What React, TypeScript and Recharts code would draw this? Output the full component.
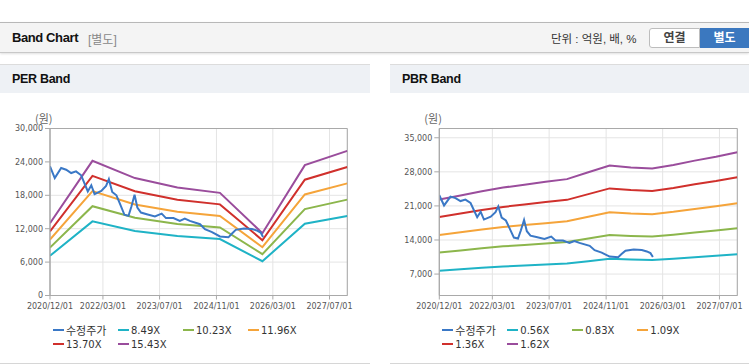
import React from "react";
import { LineChart, Line, XAxis, YAxis, CartesianGrid, ReferenceArea } from "recharts";

// x axis
const X_START = "2020/12/01";
const X_END = "2027/12/01";
const X_TICKS = ["2020/12/01", "2022/03/01", "2023/07/01", "2024/11/01", "2026/03/01", "2027/07/01"];

// 수정주가 (shared by both charts)
const PRICE_DATES = [
    "2020/12/01", "2021/01/11", "2021/03/07", "2021/04/19", "2021/06/01", "2021/07/13",
    "2021/08/26", "2021/10/22", "2021/11/21", "2021/12/19", "2022/02/15", "2022/03/28",
    "2022/04/21", "2022/05/20", "2022/06/25", "2022/07/25", "2022/09/02", "2022/10/07",
    "2022/11/01", "2022/11/28", "2022/12/22", "2023/01/22", "2023/03/13", "2023/05/22",
    "2023/07/19", "2023/08/25", "2023/10/28", "2023/12/22", "2024/02/03", "2024/03/17",
    "2024/06/13", "2024/07/25", "2024/09/24", "2024/12/01", "2025/02/12", "2025/03/13",
    "2025/04/16", "2025/06/25", "2025/09/03", "2025/10/16", "2025/11/16", "2025/12/07",
];
const PRICE_VALUES = [
    23200, 21100, 22900, 22600, 22000, 22300,
    21600, 18700, 19800, 18200, 18800, 19700,
    20900, 18600, 18000, 16500, 14500, 14300,
    16000, 18100, 15800, 14900, 14600, 14200,
    14700, 13900, 13900, 13400, 13800, 13400,
    12800, 11900, 11400, 10600, 10450, 11100,
    11800, 12050, 11950, 11650, 11300, 10500,
];

// PER band
const PER_DATES = ["2020/12/01", "2021/12/01", "2022/12/01", "2023/12/01", "2024/12/01", "2025/12/01", "2026/12/01", "2027/12/01"];
const PER_LABELS = ["8.49X", "10.23X", "11.96X", "13.70X", "15.43X"];
const PER_849 = [7140, 13312, 11606, 10672, 10146, 6155, 12888, 14297];
const PER_1023 = [8603, 16041, 13984, 12859, 12225, 7417, 15529, 17227];
const PER_1196 = [10058, 18753, 16349, 15034, 14292, 8671, 18155, 20141];
const PER_1370 = [11522, 21482, 18728, 17221, 16372, 9933, 20797, 23071];
const PER_1543 = [12976, 24194, 21093, 19396, 18439, 11187, 23423, 25984];
const PER_TICKS = [0, 6000, 12000, 18000, 24000, 30000];

// PBR band
const PBR_DATES = [
    "2020/12/01", "2021/06/01", "2021/12/01", "2022/06/01", "2022/12/01", "2023/06/01", "2023/12/01", "2024/06/01",
    "2024/12/01", "2025/06/01", "2025/12/01", "2026/06/01", "2026/12/01", "2027/06/01", "2027/12/01",
];
const PBR_LABELS = ["0.56X", "0.83X", "1.09X", "1.36X", "1.62X"];
const PBR_056 = [7708, 8002, 8306, 8562, 8766, 8971, 9160, 9644, 10128, 9990, 9914, 10163, 10474, 10751, 11076];
const PBR_083 = [11425, 11861, 12311, 12691, 12993, 13296, 13577, 14294, 15011, 14807, 14694, 15063, 15524, 15934, 16416];
const PBR_109 = [15004, 15576, 16168, 16666, 17063, 17461, 17830, 18772, 19714, 19446, 19297, 19781, 20387, 20926, 21558];
const PBR_136 = [18720, 19434, 20173, 20794, 21289, 21786, 22247, 23422, 24597, 24262, 24077, 24681, 25437, 26109, 26898];
const PBR_162 = [22300, 23150, 24030, 24770, 25360, 25950, 26500, 27900, 29300, 28900, 28680, 29400, 30300, 31100, 32040];
const PBR_TICKS = [7000, 14000, 21000, 28000, 35000];

const PRICE_COLOR = "#3a78c6";
const BAND_COLORS = ["#1fb3c6", "#8cb64c", "#f5a43a", "#d0302c", "#9a4d9c"];

const toTime = (s: string) => {
    const [y, m, d] = s.split("/").map(Number);
    return Date.UTC(y, m - 1, d);
};

const fmtDate = (v: number) => {
    const d = new Date(v);
    const mm = String(d.getUTCMonth() + 1).padStart(2, "0");
    const dd = String(d.getUTCDate()).padStart(2, "0");
    return `${d.getUTCFullYear()}/${mm}/${dd}`;
};

const fmtNum = (v: number) => String(v).replace(/\B(?=(\d{3})+(?!\d))/g, ",");

function buildRows(dates: string[], bands: number[][]) {
    const map = new Map<number, any>();
    const get = (t: number) => {
        if (!map.has(t)) map.set(t, { t });
        return map.get(t);
    };
    dates.forEach((d, i) => {
        const row = get(toTime(d));
        bands.forEach((b, k) => (row["b" + k] = b[i]));
    });
    PRICE_DATES.forEach((d, i) => (get(toTime(d)).price = PRICE_VALUES[i]));
    return Array.from(map.values()).sort((a, b) => a.t - b.t);
}

const tickStyle = { fontSize: 8, fill: "#555", fontFamily: "DejaVu Sans" };

interface PanelProps {
    left: number;
    width: number;
    title: string;
    dates: string[];
    bands: number[][];
    labels: string[];
    yDomain: [number, number];
    yTicks: number[];
    axisWidth: number;
    marginRight: number;
}

function BandPanel({ left, width, title, dates, bands, labels, yDomain, yTicks, axisWidth, marginRight }: PanelProps) {
    const rows = buildRows(dates, bands);
    const x0 = toTime(X_START);
    const x1 = toTime(X_END);
    const legend = [{ name: "수정주가", color: PRICE_COLOR }].concat(
        labels.map((l, i) => ({ name: l, color: BAND_COLORS[i] }))
    );

    return (
        <div
            style={{
                position: "absolute",
                left,
                top: 64,
                width,
                height: 300,
                boxSizing: "border-box",
                borderBottom: "1px solid #d6d6d6",
                background: "#fff",
            }}
        >
            <div
                style={{
                    position: "absolute",
                    left: 0,
                    top: 0,
                    width,
                    height: 29,
                    boxSizing: "border-box",
                    borderTop: "1px solid #dcdcdc",
                    background: "#eef1f5",
                }}
            >
                <span
                    style={{
                        position: "absolute",
                        left: 12,
                        top: 7,
                        fontSize: 12.5,
                        fontWeight: 700,
                        letterSpacing: -0.3,
                        color: "#111",
                        fontFamily: "'Liberation Sans', sans-serif",
                    }}
                >
                    {title}
                </span>
            </div>
            <div
                style={{
                    position: "absolute",
                    left: axisWidth - 15,
                    top: 48,
                    fontSize: 11,
                    color: "#666",
                    fontFamily: "'Noto Sans CJK KR', sans-serif",
                    lineHeight: "13px",
                }}
            >
                (원)
            </div>
            <div style={{ position: "absolute", left: 0, top: 29 }}>
                <LineChart
                    width={width}
                    height={230}
                    data={rows}
                    margin={{ top: 35.5, right: marginRight, bottom: 0, left: 0 }}
                >
                    <CartesianGrid stroke="#e4e4e4" />
                    <XAxis
                        type="number"
                        dataKey="t"
                        domain={[x0, x1]}
                        ticks={X_TICKS.map(toTime)}
                        tickFormatter={fmtDate}
                        interval={0}
                        height={27.5}
                        tick={tickStyle}
                        tickSize={4}
                        tickMargin={4}
                        axisLine={{ stroke: "#a9a9a9" }}
                        tickLine={{ stroke: "#a9a9a9" }}
                        allowDataOverflow
                    />
                    <YAxis
                        type="number"
                        domain={yDomain}
                        ticks={yTicks}
                        tickFormatter={fmtNum}
                        interval={0}
                        width={axisWidth}
                        tick={tickStyle}
                        tickSize={5}
                        axisLine={{ stroke: "#a9a9a9" }}
                        tickLine={{ stroke: "#a9a9a9" }}
                        allowDataOverflow
                    />
                    <ReferenceArea x1={x0} x2={x1} y1={yDomain[0]} y2={yDomain[1]} fill="none" stroke="#a9a9a9" />
                    {bands.map((_, k) => (
                        <Line
                            key={k}
                            type="linear"
                            dataKey={"b" + k}
                            stroke={BAND_COLORS[k]}
                            strokeWidth={2}
                            dot={false}
                            activeDot={false}
                            connectNulls
                            isAnimationActive={false}
                        />
                    ))}
                    <Line
                        type="linear"
                        dataKey="price"
                        stroke={PRICE_COLOR}
                        strokeWidth={2}
                        dot={false}
                        activeDot={false}
                        connectNulls
                        isAnimationActive={false}
                    />
                </LineChart>
            </div>
            {legend.map((item, i) => (
                <div
                    key={item.name}
                    style={{
                        position: "absolute",
                        left: axisWidth + 3 + (i % 4) * 65,
                        top: 259 + Math.floor(i / 4) * 14,
                        height: 14,
                        display: "flex",
                        alignItems: "center",
                        whiteSpace: "nowrap",
                    }}
                >
                    <span style={{ display: "inline-block", width: 11, height: 2.5, background: item.color, marginRight: 2 }} />
                    <span
                        style={{
                            fontSize: i === 0 ? 11 : 10,
                            color: "#333",
                            fontFamily: "'DejaVu Sans', 'Noto Sans CJK KR', sans-serif",
                        }}
                    >
                        {item.name}
                    </span>
                </div>
            ))}
        </div>
    );
}

export default function App() {
    return (
        <div
            style={{
                position: "absolute",
                left: 0,
                top: 0,
                width: 749,
                height: 364,
                background: "#fff",
                overflow: "hidden",
                fontFamily: "'Liberation Sans', 'Noto Sans CJK KR', sans-serif",
            }}
        >
            <div
                style={{
                    position: "absolute",
                    left: 0,
                    top: 22,
                    width: 749,
                    height: 31,
                    boxSizing: "border-box",
                    background: "#f4f4f4",
                    borderTop: "1px solid #b8b8b8",
                    borderBottom: "1px solid #c8c8c8",
                    boxShadow: "0 1px 2px rgba(0,0,0,0.12)",
                }}
            >
                <span
                    style={{
                        position: "absolute",
                        left: 12,
                        top: 7,
                        fontSize: 13,
                        fontWeight: 700,
                        letterSpacing: -0.4,
                        color: "#111",
                    }}
                >
                    Band Chart
                </span>
                <span style={{ position: "absolute", left: 88, top: 7, fontSize: 12, color: "#888" }}>[별도]</span>
                <span style={{ position: "absolute", left: 551, top: 7, fontSize: 11.5, color: "#333" }}>
                    단위 : 억원, 배, %
                </span>
                <div
                    style={{
                        position: "absolute",
                        left: 649,
                        top: 5,
                        width: 51,
                        height: 20,
                        boxSizing: "border-box",
                        border: "1px solid #bdbdbd",
                        borderRadius: "3px 0 0 3px",
                        background: "#fff",
                        fontSize: 12,
                        fontWeight: 700,
                        color: "#444",
                        textAlign: "center",
                        lineHeight: "18px",
                    }}
                >
                    연결
                </div>
                <div
                    style={{
                        position: "absolute",
                        left: 700,
                        top: 5,
                        width: 49,
                        height: 20,
                        background: "#3b78bf",
                        fontSize: 12,
                        fontWeight: 700,
                        color: "#fff",
                        textAlign: "center",
                        lineHeight: "20px",
                    }}
                >
                    별도
                </div>
            </div>
            <BandPanel
                left={0}
                width={370}
                title="PER Band"
                dates={PER_DATES}
                bands={[PER_849, PER_1023, PER_1196, PER_1370, PER_1543]}
                labels={PER_LABELS}
                yDomain={[0, 30000]}
                yTicks={PER_TICKS}
                axisWidth={50}
                marginRight={22.7}
            />
            <BandPanel
                left={390}
                width={359}
                title="PBR Band"
                dates={PBR_DATES}
                bands={[PBR_056, PBR_083, PBR_109, PBR_136, PBR_162]}
                labels={PBR_LABELS}
                yDomain={[2600, 36900]}
                yTicks={PBR_TICKS}
                axisWidth={49.3}
                marginRight={11.7}
            />
        </div>
    );
}
